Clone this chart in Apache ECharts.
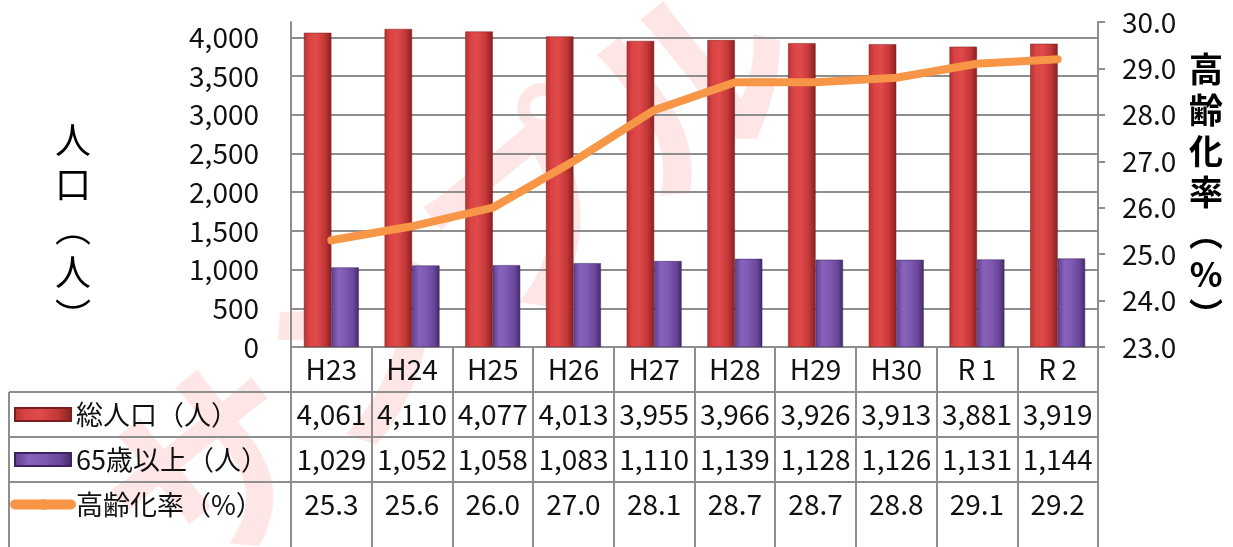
<!DOCTYPE html>
<html><head><meta charset="utf-8">
<script src="https://cdn.jsdelivr.net/npm/echarts@6/dist/echarts.min.js"></script>
<style>html,body{margin:0;padding:0;background:#fff}#c{width:1233px;height:547px}</style>
</head><body><div id="c"></div>
<script>
const categories = ['H23','H24','H25','H26','H27','H28','H29','H30','R\u20091','R\u20092'];
const totalPop = [4061,4110,4077,4013,3955,3966,3926,3913,3881,3919];
const over65 = [1029,1052,1058,1083,1110,1139,1128,1126,1131,1144];
const agingRate = [25.3,25.6,26.0,27.0,28.1,28.7,28.7,28.8,29.1,29.2];
const seriesNames = ['総人口（人）','65歳以上（人）','高齢化率（%）'];

const FONT = '"Noto Sans CJK JP", "Noto Sans", sans-serif';
const GRAY = '#8e8e8e';
const G = {left:291, right:135, top:22, bottom:200};
const W = 1233, H = 547;
const plotBottom = H - G.bottom, rowH = 45;
const fmt = v => v.toLocaleString('en-US');

const chart = echarts.init(document.getElementById('c'));
const redGrad = new echarts.graphic.LinearGradient(0,0,1,0,[
  {offset:0,color:'#b53131'},{offset:0.2,color:'#db4444'},{offset:0.45,color:'#e04a4a'},
  {offset:0.75,color:'#c43838'},{offset:1,color:'#8a2020'}]);
const purGrad = new echarts.graphic.LinearGradient(0,0,1,0,[
  {offset:0,color:'#5e3f8c'},{offset:0.25,color:'#8862bb'},{offset:0.5,color:'#7f5ab2'},
  {offset:0.8,color:'#68479a'},{offset:1,color:'#432a68'}]);

chart.setOption({
  animation:false,
  textStyle:{fontFamily:FONT},
  grid:{left:G.left,right:G.right,top:G.top,bottom:G.bottom,containLabel:false},
  legend:{
    orient:'vertical', left:10, top:plotBottom+rowH, padding:0, itemGap:0,
    itemWidth:56, itemHeight:13, selectedMode:false,
    textStyle:{fontSize:27, lineHeight:45, color:'#111', fontFamily:FONT},
    data:[
      {name:seriesNames[0], icon:'rect'},
      {name:seriesNames[1], icon:'rect'},
      {name:seriesNames[2], lineStyle:{width:10, cap:'round', color:'#f79646'}}
    ]
  },
  xAxis:{
    type:'category', data:categories,
    axisLine:{show:true, lineStyle:{color:GRAY, width:2}},
    axisTick:{show:true, interval:0, length:H-plotBottom, lineStyle:{color:GRAY, width:2}},
    axisLabel:{interval:0, margin:0, fontSize:28, lineHeight:rowH, color:'#111', fontFamily:FONT,
      formatter:(v,i)=>[v, fmt(totalPop[i]), fmt(over65[i]), agingRate[i].toFixed(1)].join('\n')}
  },
  yAxis:[
    {type:'value', min:0, max:4200, interval:500, position:'left',
     axisLine:{show:true, lineStyle:{color:GRAY, width:2}},
     axisTick:{show:false},
     splitLine:{show:true, showMaxLine:false, lineStyle:{color:GRAY, width:2}},
     axisLabel:{fontSize:28, color:'#111', margin:32, showMaxLabel:false, fontFamily:FONT,
       formatter:v=>fmt(v)}},
    {type:'value', min:23, max:30, interval:1, position:'right',
     axisLine:{show:true, lineStyle:{color:GRAY, width:2}},
     axisTick:{show:true, length:7, lineStyle:{color:GRAY, width:2}},
     splitLine:{show:false},
     axisLabel:{fontSize:28, color:'#111', margin:24, fontFamily:FONT,
       formatter:v=>v.toFixed(1)}}
  ],
  series:[
    {name:seriesNames[0], type:'bar', data:totalPop, yAxisIndex:0, barGap:'0%', barCategoryGap:'32%',
     itemStyle:{color:redGrad, borderColor:'#7a1d1d', borderWidth:0.5}},
    {name:seriesNames[1], type:'bar', data:over65, yAxisIndex:0,
     itemStyle:{color:purGrad, borderColor:'#3a2360', borderWidth:0.5}},
    {name:seriesNames[2], type:'line', data:agingRate, yAxisIndex:1, symbol:'none', z:5,
     lineStyle:{width:8, color:'#f79646', cap:'round', join:'round'}, itemStyle:{color:'#f79646'}}
  ],
  graphic:[
    {type:'text', z:-10, x:450, y:275, rotation:0.68, silent:true,
     style:{text:'サンプル', font:'bold 205px '+FONT, fill:'rgba(255,60,60,0.13)', align:'center', verticalAlign:'middle'}},
    {type:'text', x:73, y:118, silent:true,
     style:{text:'人\n口\n︵\n人\n︶', font:'36px '+FONT, lineHeight:44, fill:'#000', align:'center', verticalAlign:'top'}},
    {type:'text', x:1206, y:49, silent:true,
     style:{text:'高\n齢\n化\n率\n︵\n%\n︶', font:'bold 34px '+FONT, lineHeight:41, fill:'#000', align:'center', verticalAlign:'top'}},
    {type:'line', silent:true, shape:{x1:9,y1:plotBottom+rowH,x2:W-G.right,y2:plotBottom+rowH}, style:{stroke:GRAY,lineWidth:2}},
    {type:'line', silent:true, shape:{x1:9,y1:plotBottom+2*rowH,x2:W-G.right,y2:plotBottom+2*rowH}, style:{stroke:GRAY,lineWidth:2}},
    {type:'line', silent:true, shape:{x1:9,y1:plotBottom+3*rowH,x2:W-G.right,y2:plotBottom+3*rowH}, style:{stroke:GRAY,lineWidth:2}},
    {type:'line', silent:true, shape:{x1:9,y1:plotBottom+rowH,x2:9,y2:H}, style:{stroke:GRAY,lineWidth:2}}
  ]
});
</script></body></html>
